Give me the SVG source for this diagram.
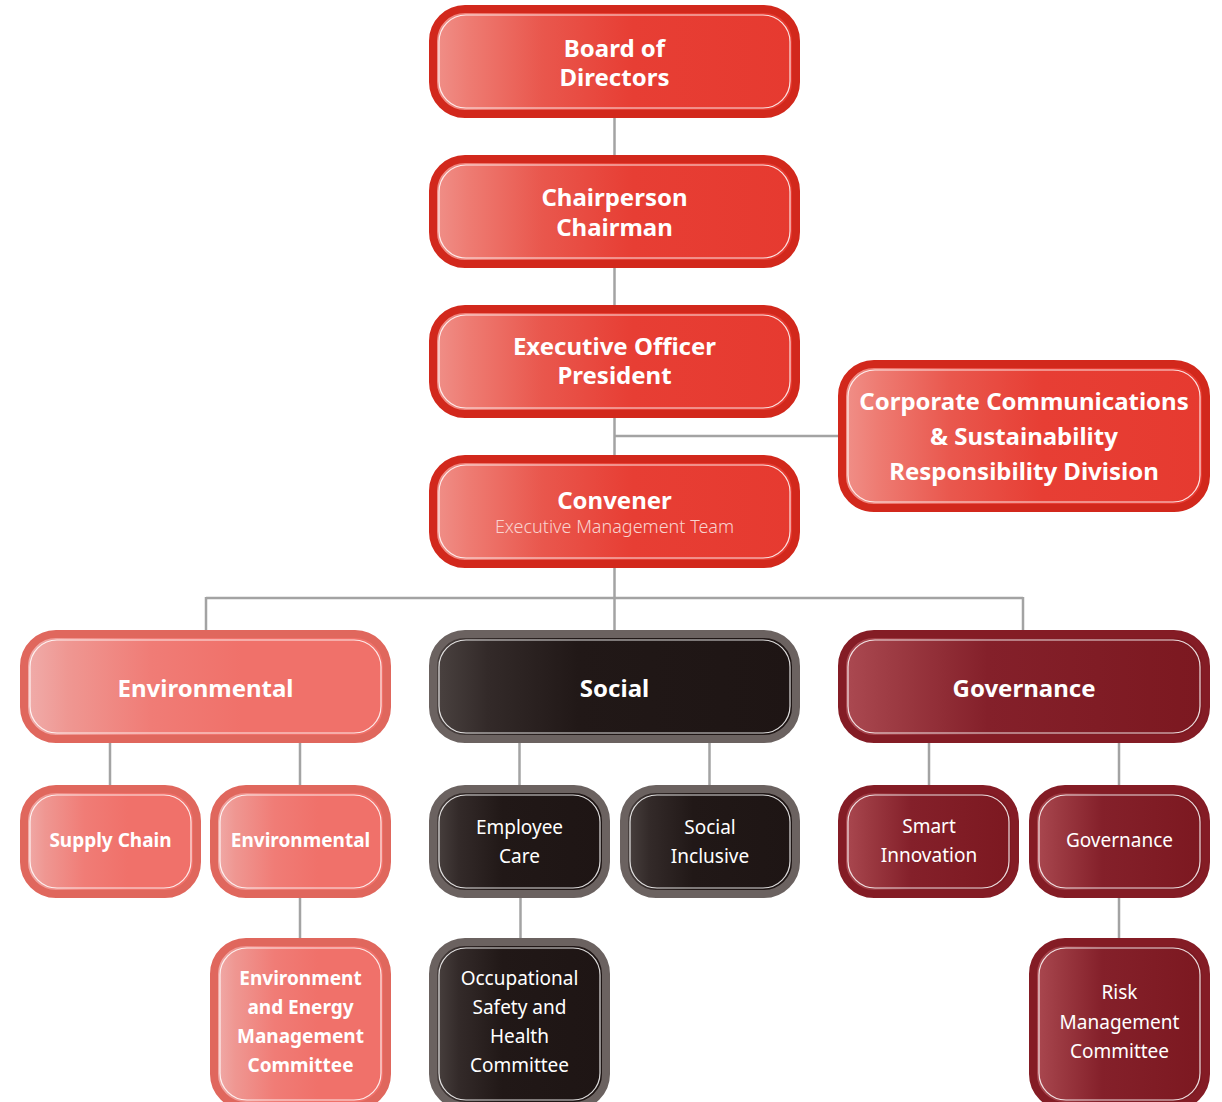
<svg xmlns="http://www.w3.org/2000/svg" width="1222" height="1102" viewBox="0 0 1222 1102">
<defs>
<linearGradient id="gRed" x1="0" y1="0" x2="1" y2="0">
<stop offset="0" stop-color="#f0918a"/><stop offset="0.1" stop-color="#ee7b72"/><stop offset="0.3" stop-color="#e9574d"/><stop offset="0.55" stop-color="#e73e34"/><stop offset="1" stop-color="#e63a30"/>
</linearGradient>
<linearGradient id="gEnv" x1="0" y1="0" x2="1" y2="0">
<stop offset="0" stop-color="#f0aeac"/><stop offset="0.12" stop-color="#ef9792"/><stop offset="0.35" stop-color="#f07c76"/><stop offset="0.6" stop-color="#f0716a"/><stop offset="1" stop-color="#f0716a"/>
</linearGradient>
<linearGradient id="gSoc" x1="0" y1="0" x2="1" y2="0">
<stop offset="0" stop-color="#4c4442"/><stop offset="0.15" stop-color="#332a29"/><stop offset="0.4" stop-color="#211817"/><stop offset="1" stop-color="#1e1514"/>
</linearGradient>
<linearGradient id="gGov" x1="0" y1="0" x2="1" y2="0">
<stop offset="0" stop-color="#ac4a52"/><stop offset="0.15" stop-color="#9c3a42"/><stop offset="0.4" stop-color="#84202a"/><stop offset="1" stop-color="#7c1820"/>
</linearGradient>
</defs>
<style>
.red .o{fill:url(#gRed);stroke:#d2281c;stroke-width:8}
.env .o{fill:url(#gEnv);stroke:#e0675d;stroke-width:8}
.soc .o{fill:url(#gSoc);stroke:#6b6260;stroke-width:8}
.gov .o{fill:url(#gGov);stroke:#841c25;stroke-width:8}
.i{fill:none;stroke:#ffffff;stroke-opacity:0.85;stroke-width:1.2}
text{font-family:"Noto Sans","Liberation Sans",sans-serif;fill:#ffffff;text-anchor:middle}
.b24{font-size:24px;font-weight:700}
.b19{font-size:19px;font-weight:700}
.r19{font-size:19px;font-weight:400}
.sub{font-size:18px;font-weight:300;fill:#f9d3cf}
.conn line{stroke:#a3a3a3;stroke-width:2.5}
</style>
<g class="conn">
<line x1="614.5" y1="118" x2="614.5" y2="155"/>
<line x1="614.5" y1="268" x2="614.5" y2="305"/>
<line x1="614.5" y1="418" x2="614.5" y2="455"/>
<line x1="614.5" y1="436" x2="838" y2="436"/>
<line x1="614.5" y1="568" x2="614.5" y2="630"/>
<line x1="206" y1="598" x2="1023" y2="598"/>
<line x1="206" y1="597" x2="206" y2="630"/>
<line x1="1023" y1="597" x2="1023" y2="630"/>
<line x1="110" y1="743" x2="110" y2="785"/>
<line x1="300" y1="743" x2="300" y2="785"/>
<line x1="519.5" y1="743" x2="519.5" y2="785"/>
<line x1="709.5" y1="743" x2="709.5" y2="785"/>
<line x1="929" y1="743" x2="929" y2="785"/>
<line x1="1119" y1="743" x2="1119" y2="785"/>
<line x1="300" y1="898" x2="300" y2="938"/>
<line x1="520.5" y1="898" x2="520.5" y2="938"/>
<line x1="1119" y1="898" x2="1119" y2="938"/>
</g>
<g id="board" class="red">
<rect class="o" x="433" y="9" width="363" height="105" rx="32"/>
<rect class="i" x="439" y="15" width="351" height="93" rx="27"/>
<text class="b24" x="614.5" y="57">Board of</text>
<text class="b24" x="614.5" y="86">Directors</text>
</g>
<g id="chair" class="red">
<rect class="o" x="433" y="159" width="363" height="105" rx="32"/>
<rect class="i" x="439" y="165" width="351" height="93" rx="27"/>
<text class="b24" x="614.5" y="206">Chairperson</text>
<text class="b24" x="614.5" y="236">Chairman</text>
</g>
<g id="exec" class="red">
<rect class="o" x="433" y="309" width="363" height="105" rx="32"/>
<rect class="i" x="439" y="315" width="351" height="93" rx="27"/>
<text class="b24" x="614.5" y="355">Executive Officer</text>
<text class="b24" x="614.5" y="384">President</text>
</g>
<g id="convener" class="red">
<rect class="o" x="433" y="459" width="363" height="105" rx="32"/>
<rect class="i" x="439" y="465" width="351" height="93" rx="27"/>
<text class="b24" x="614.5" y="509">Convener</text>
<text class="sub" x="614.5" y="533">Executive Management Team</text>
</g>
<g id="corporate" class="red">
<rect class="o" x="842" y="364" width="364" height="144" rx="32"/>
<rect class="i" x="848" y="370" width="352" height="132" rx="27"/>
<text class="b24" x="1024" y="410">Corporate Communications</text>
<text class="b24" x="1024" y="445">&amp; Sustainability</text>
<text class="b24" x="1024" y="480">Responsibility Division</text>
</g>
<g id="environmental" class="env">
<rect class="o" x="24" y="634" width="363" height="105" rx="32"/>
<rect class="i" x="30" y="640" width="351" height="93" rx="27"/>
<text class="b24" x="205.5" y="697">Environmental</text>
</g>
<g id="social" class="soc">
<rect class="o" x="433" y="634" width="363" height="105" rx="32"/>
<rect class="i" x="439" y="640" width="351" height="93" rx="27"/>
<text class="b24" x="614.5" y="697">Social</text>
</g>
<g id="governance" class="gov">
<rect class="o" x="842" y="634" width="364" height="105" rx="32"/>
<rect class="i" x="848" y="640" width="352" height="93" rx="27"/>
<text class="b24" x="1024" y="697">Governance</text>
</g>
<g id="supply" class="env">
<rect class="o" x="24" y="789" width="173" height="105" rx="32"/>
<rect class="i" x="30" y="795" width="161" height="93" rx="27"/>
<text class="b19" x="110.5" y="847">Supply Chain</text>
</g>
<g id="env2" class="env">
<rect class="o" x="214" y="789" width="173" height="105" rx="32"/>
<rect class="i" x="220" y="795" width="161" height="93" rx="27"/>
<text class="b19" x="300.5" y="847">Environmental</text>
</g>
<g id="employee" class="soc">
<rect class="o" x="433" y="789" width="173" height="105" rx="32"/>
<rect class="i" x="439" y="795" width="161" height="93" rx="27"/>
<text class="r19" x="519.5" y="834">Employee</text>
<text class="r19" x="519.5" y="863">Care</text>
</g>
<g id="inclusive" class="soc">
<rect class="o" x="624" y="789" width="172" height="105" rx="32"/>
<rect class="i" x="630" y="795" width="160" height="93" rx="27"/>
<text class="r19" x="710" y="834">Social</text>
<text class="r19" x="710" y="863">Inclusive</text>
</g>
<g id="smart" class="gov">
<rect class="o" x="842" y="789" width="173" height="105" rx="32"/>
<rect class="i" x="848" y="795" width="161" height="93" rx="27"/>
<text class="r19" x="929" y="833">Smart</text>
<text class="r19" x="929" y="862">Innovation</text>
</g>
<g id="gov2" class="gov">
<rect class="o" x="1033" y="789" width="173" height="105" rx="32"/>
<rect class="i" x="1039" y="795" width="161" height="93" rx="27"/>
<text class="r19" x="1119.5" y="847">Governance</text>
</g>
<g id="energy" class="env">
<rect class="o" x="214" y="942" width="173" height="164" rx="32"/>
<rect class="i" x="220" y="948" width="161" height="152" rx="27"/>
<text class="b19" x="300.5" y="985">Environment</text>
<text class="b19" x="300.5" y="1014">and Energy</text>
<text class="b19" x="300.5" y="1043">Management</text>
<text class="b19" x="300.5" y="1072">Committee</text>
</g>
<g id="safety" class="soc">
<rect class="o" x="433" y="942" width="173" height="164" rx="32"/>
<rect class="i" x="439" y="948" width="161" height="152" rx="27"/>
<text class="r19" x="519.5" y="985">Occupational</text>
<text class="r19" x="519.5" y="1014">Safety and</text>
<text class="r19" x="519.5" y="1043">Health</text>
<text class="r19" x="519.5" y="1072">Committee</text>
</g>
<g id="risk" class="gov">
<rect class="o" x="1033" y="942" width="173" height="164" rx="32"/>
<rect class="i" x="1039" y="948" width="161" height="152" rx="27"/>
<text class="r19" x="1119.5" y="999">Risk</text>
<text class="r19" x="1119.5" y="1029">Management</text>
<text class="r19" x="1119.5" y="1058">Committee</text>
</g>
</svg>
